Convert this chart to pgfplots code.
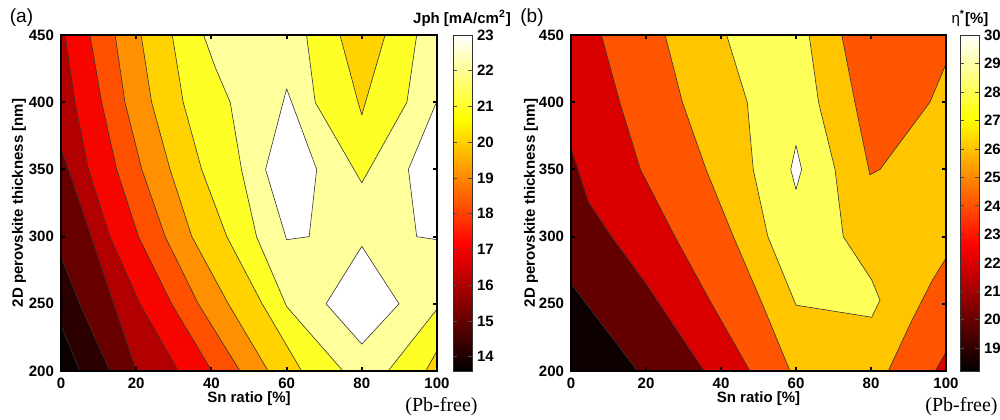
\documentclass[border=0pt]{standalone}
\usepackage{fontspec}
\setmainfont{Liberation Sans}
\newfontfamily\timesf{Liberation Serif}
\usepackage{pgfplots}
\pgfplotsset{compat=1.18}
\pgfplotsset{colormap={hotm}{rgb255(0cm)=(0,0,0); rgb255(3cm)=(255,0,0); rgb255(6cm)=(255,255,0); rgb255(8cm)=(255,255,255)}}
\definecolor{a0}{RGB}{12,0,0}
\definecolor{a1}{RGB}{45,0,0}
\definecolor{a2}{RGB}{105,0,0}
\definecolor{a3}{RGB}{178,0,0}
\definecolor{a4}{RGB}{248,5,0}
\definecolor{a5}{RGB}{255,80,0}
\definecolor{a6}{RGB}{255,145,0}
\definecolor{a7}{RGB}{255,210,0}
\definecolor{a8}{RGB}{255,255,40}
\definecolor{a9}{RGB}{255,255,155}
\definecolor{b0}{RGB}{12,0,0}
\definecolor{b1}{RGB}{100,0,0}
\definecolor{b2}{RGB}{218,0,0}
\definecolor{b3}{RGB}{255,85,0}
\definecolor{b4}{RGB}{255,198,0}
\definecolor{b5}{RGB}{255,255,90}
\newcommand{\lab}{\fontsize{7.5}{9}\selectfont\bfseries}
\pgfplotsset{
  /pgf/number format/assume math mode=true,
  panel/.style={
    anchor=south west, scale only axis, width=188pt, height=168pt,
    xmin=0,xmax=100,ymin=200,ymax=450,
    xtick={0,20,...,100}, ytick={200,250,...,450},
    axis on top, tick align=inside, major tick length=2.2pt,
    tick pos=both, xticklabel pos=lower, yticklabel pos=left,
    axis line style={line width=1.1pt},
    major tick style={line width=1pt,black},
    tick label style={font=\lab},
    label style={font=\lab},
    xlabel={Sn ratio [\%]}, ylabel={2D perovskite thickness [nm]},
    xlabel style={at={(axis description cs:0.5,-0.0833)},anchor=center},
    ylabel style={at={(axis description cs:-0.112,0.5)},anchor=center},
    colormap name=hotm, colorbar,
  },
  cbar/.style={at={(parent axis.north east)}, anchor=north west,
    scale only axis, width=9.5pt, height=168pt,
    tick align=inside, major tick length=2pt,
    ytick pos=both, yticklabel pos=right,
    axis line style={line width=0.4pt, black!80},
    major tick style={line width=0.4pt, black!70},
    yticklabel style={font=\lab, xshift=-1pt}},
  reg/.style={draw=black!80, line width=0.3pt, line join=round, fill=#1},
}
\begin{document}
\begin{tikzpicture}
\useasboundingbox (0,0) rectangle (500pt,209.5pt);
% ---------------- panel (a)
\begin{axis}[panel, at={(30.5pt,24pt)},
  point meta min=13.6, point meta max=23,
  colorbar style={cbar, xshift=-0.5pt, ytick={14,15,...,23}}]
\addplot[reg=a9] coordinates {(0,200)(100,200)(100,450)(0,450)(0,200)};
\addplot[reg=a8] coordinates {(0,450)(37.9,450)(41,426)(45,400)(48,350)(52,300)(60,248)(75,200)(0,200)(0,450)};
\addplot[reg=a7] coordinates {(0,450)(29.6,450)(32.5,400)(37.4,350)(44.1,300)(53.5,250)(64,200)(0,200)(0,450)};
\addplot[reg=a6] coordinates {(0,450)(21.3,450)(24.1,400)(29,350)(34.8,300)(44.5,250)(55.1,200)(0,200)(0,450)};
\addplot[reg=a5] coordinates {(0,450)(14.4,450)(17,400)(21.5,350)(27.7,300)(36.5,250)(47.6,200)(0,200)(0,450)};
\addplot[reg=a4] coordinates {(0,450)(7.7,450)(10.8,400)(14.8,350)(20.6,300)(29.4,250)(40.1,200)(0,200)(0,450)};
\addplot[reg=a3] coordinates {(0,450)(1.1,450)(3.7,400)(7.3,350)(13,300)(21,250)(31.2,200)(0,200)(0,450)};
\addplot[reg=a2] coordinates {(0,365)(2,350)(8,300)(14,250)(20.1,200)(0,200)(0,365)};
\addplot[reg=a1] coordinates {(0,285)(5,250)(13,200)(0,200)(0,285)};
\addplot[reg=a0] coordinates {(0,234)(5,200)(0,200)(0,234)};
\addplot[reg=a8] coordinates {(65.3,450)(67.6,400)(80,340)(92,400)(94.6,450)(65.3,450)};
\addplot[reg=a7] coordinates {(74.2,450)(79,400)(80,390.5)(81,400)(86.2,450)(74.2,450)};
\addplot[reg=a8] coordinates {(87,200)(100,246)(100,200)(87,200)};
\addplot[reg=a7] coordinates {(97,200)(100,215)(100,200)(97,200)};
\addplot[reg=white] coordinates {(60,410)(68,350)(66,300)(60,297.7)(54.4,350)(60,410)};
\addplot[reg=white] coordinates {(70.5,250)(80,292.8)(89.9,250)(80,220)(70.5,250)};
\addplot[reg=white] coordinates {(100,401)(92.4,350)(94.6,300)(100,297.7)(100,401)};
\end{axis}
% ---------------- panel (b)
\begin{axis}[panel, at={(285.5pt,24pt)}, width=187.5pt,
  ylabel style={at={(axis description cs:-0.107,0.5)}},
  point meta min=18.2, point meta max=30,
  colorbar style={cbar, xshift=-1.5pt, ytick={19,20,...,30}}]
\addplot[reg=b4] coordinates {(0,200)(100,200)(100,450)(0,450)(0,200)};
\addplot[reg=b3] coordinates {(0,450)(25.1,450)(29.7,400)(36,350)(43.3,300)(51,250)(58.4,200)(0,200)(0,450)};
\addplot[reg=b2] coordinates {(0,450)(8.1,450)(13,400)(18.5,350)(27.7,300)(37.5,250)(47.7,200)(0,200)(0,450)};
\addplot[reg=b1] coordinates {(0,366)(4.6,326)(10.8,300)(20,265)(35.5,200)(0,200)(0,366)};
\addplot[reg=b0] coordinates {(0,265)(17.7,200)(0,200)(0,265)};
\addplot[reg=b3] coordinates {(72.2,450)(75.7,400)(79.7,346)(82.4,350)(95.7,400)(100,428.5)(100,450)(72.2,450)};
\addplot[reg=b3] coordinates {(84.6,200)(90.8,237)(96.2,266.7)(100,284)(100,200)(84.6,200)};
\addplot[reg=b2] coordinates {(97.1,200)(100,214)(100,200)(97.1,200)};
\addplot[reg=b5] coordinates {(41.5,450)(47,400)(48.6,350)(52.5,300)(60,249)(80.2,240)(82.4,252.8)(80.2,267.7)(72.6,300)(70.4,350)(66,400)(63.5,450)(41.5,450)};
\addplot[reg=white] coordinates {(58.6,350)(60,368)(61.5,350)(60,335)(58.6,350)};
\end{axis}
% ---------------- texts
\node[font=\fontsize{9.5}{11}\selectfont] at (10.75pt,200.5pt) {(a)};
\node[font=\fontsize{9.5}{11}\selectfont] at (266pt,200.5pt) {(b)};
\node[font=\lab] at (231pt,200.5pt) {Jph [mA/cm\textsuperscript{2}]};
\node[font=\lab] at (485pt,200.5pt) {{\mdseries η}\textsuperscript{*}[\%]};
\node[font=\timesf\fontsize{10}{12}\selectfont] at (220.75pt,6pt) {(Pb-free)};
\node[font=\timesf\fontsize{10}{12}\selectfont] at (480.75pt,6pt) {(Pb-free)};
\end{tikzpicture}
\end{document}
